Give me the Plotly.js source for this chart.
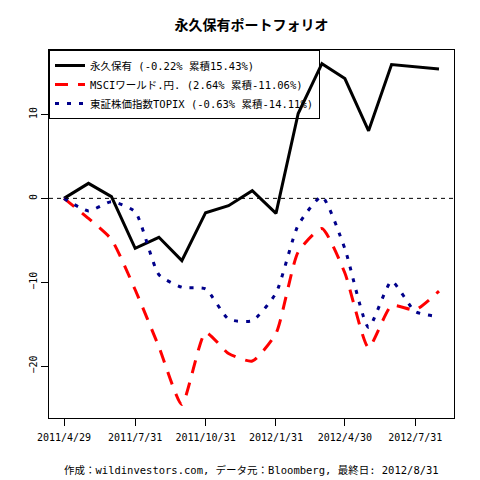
<!DOCTYPE html>
<html>
<head>
<meta charset="utf-8">
<script src="https://cdn.plot.ly/plotly-3.0.1.min.js"></script>
<style>
  body { margin: 0; background: #fff; }
  #graph { width: 480px; height: 480px; }
</style>
</head>
<body>
<div id="graph"></div>
<script>
// month-end dates
var dates = ['2011-04-29', '2011-05-31', '2011-06-30', '2011-07-31', '2011-08-31', '2011-09-30',
             '2011-10-31', '2011-11-30', '2011-12-31', '2012-01-31', '2012-02-29', '2012-03-31',
             '2012-04-30', '2012-05-31', '2012-06-30', '2012-07-31', '2012-08-31'];

// cumulative return, %
var permanent = [0, 1.79, 0.2, -5.95, -4.64, -7.42, -1.71, -0.87, 0.91, -1.79, 10.12, 16.06,
                 14.29, 8.06, 15.95, 15.7, 15.43];
var msci = [0, -2.4, -4.9, -10.9, -17.7, -24.57, -16.0, -18.5, -19.4, -16.1, -6.4, -3.6,
            -8.9, -17.8, -12.8, -13.3, -11.06];
var topix = [0, -1.5, -0.4, -1.6, -9.1, -10.6, -10.8, -14.4, -14.6, -11.3, -3.2, 0.2,
             -6.0, -15.4, -9.9, -13.5, -14.11];

var names = ['永久保有 (-0.22% 累積15.43%)',
             'MSCIワールド.円. (2.64% 累積-11.06%)',
             '東証株価指数TOPIX (-0.63% 累積-14.11%)'];

var tickDates = ['2011-04-29', '2011-07-31', '2011-10-31', '2012-01-31', '2012-04-30', '2012-07-31'];
var tickLabels = ['2011/4/29', '2011/7/31', '2011/10/31', '2012/1/31', '2012/4/30', '2012/7/31'];
var yTicks = [-20, -10, 0, 10];

var MONO = 'DejaVu Sans Mono, Noto Sans CJK JP, monospace';

function init_plot() {
    var traces = [
        {x: dates, y: permanent, name: names[0], type: 'scatter', mode: 'lines',
         line: {color: '#000000', width: 3}},
        {x: dates, y: msci, name: names[1], type: 'scatter', mode: 'lines',
         line: {color: '#ff0000', width: 3, dash: '13px,10px', shape: 'spline', smoothing: 0.55}},
        {x: dates, y: topix, name: names[2], type: 'scatter', mode: 'lines',
         line: {color: '#00008b', width: 3, dash: '4px,8px', shape: 'spline', smoothing: 0.55}}
    ];

    var yRange = [-26.19, 17.69];

    var layout = {
        width: 480,
        height: 480,
        margin: {l: 49, r: 26, t: 50, b: 62},
        paper_bgcolor: '#ffffff',
        plot_bgcolor: '#ffffff',
        font: {family: MONO, size: 10, color: '#000000'},
        title: {
            text: '<b>永久保有ポートフォリオ</b>',
            font: {family: 'Noto Sans CJK JP', size: 14, color: '#000000'},
            x: 0.5, xref: 'paper', y: 0.947, yanchor: 'middle'
        },
        showlegend: true,
        legend: {
            x: 0, y: 1, xanchor: 'left', yanchor: 'top',
            bgcolor: 'rgba(255,255,255,0)', bordercolor: '#000000', borderwidth: 1,
            font: {family: MONO, size: 10.5, color: '#000000'},
            itemwidth: 30, tracegroupgap: 0
        },
        xaxis: {
            type: 'date',
            range: ['2011-04-09 09:36', '2012-09-19 14:24'],
            tickvals: tickDates,
            ticktext: tickLabels,
            ticks: 'outside', ticklen: 7, tickcolor: '#000000',
            ticklabelstandoff: 3,
            showgrid: false, zeroline: false,
            showline: true, linecolor: '#000000', linewidth: 1, mirror: true,
            tickfont: {family: MONO, size: 10}
        },
        yaxis: {
            range: yRange,
            tickvals: yTicks,
            ticks: 'outside', ticklen: 7, tickcolor: '#000000',
            tickangle: -90,
            showgrid: false, zeroline: false,
            showline: true, linecolor: '#000000', linewidth: 1, mirror: true,
            tickfont: {family: MONO, size: 10}
        },
        yaxis2: {
            range: yRange,
            overlaying: 'y',
            side: 'right',
            tickvals: yTicks,
            ticks: 'outside', ticklen: 7, tickcolor: '#000000',
            tickangle: -90,
            showgrid: false, zeroline: false, showline: false,
            tickfont: {family: MONO, size: 10}
        },
        shapes: [{
            type: 'line', xref: 'paper', yref: 'y',
            x0: 0, x1: 1, y0: 0, y1: 0,
            line: {color: '#000000', width: 1, dash: '4px,4px'}
        }],
        annotations: [{
            text: '作成：wildinvestors.com, データ元：Bloomberg, 最終日: 2012/8/31',
            xref: 'paper', yref: 'paper', x: 0.5, y: -0.14,
            xanchor: 'center', yanchor: 'middle', showarrow: false,
            font: {family: MONO, size: 10.5, color: '#000000'}
        }]
    };

    Plotly.newPlot('graph', traces, layout, {displayModeBar: false, staticPlot: true});
}

window.addEventListener('load', init_plot, false);
</script>
</body>
</html>
